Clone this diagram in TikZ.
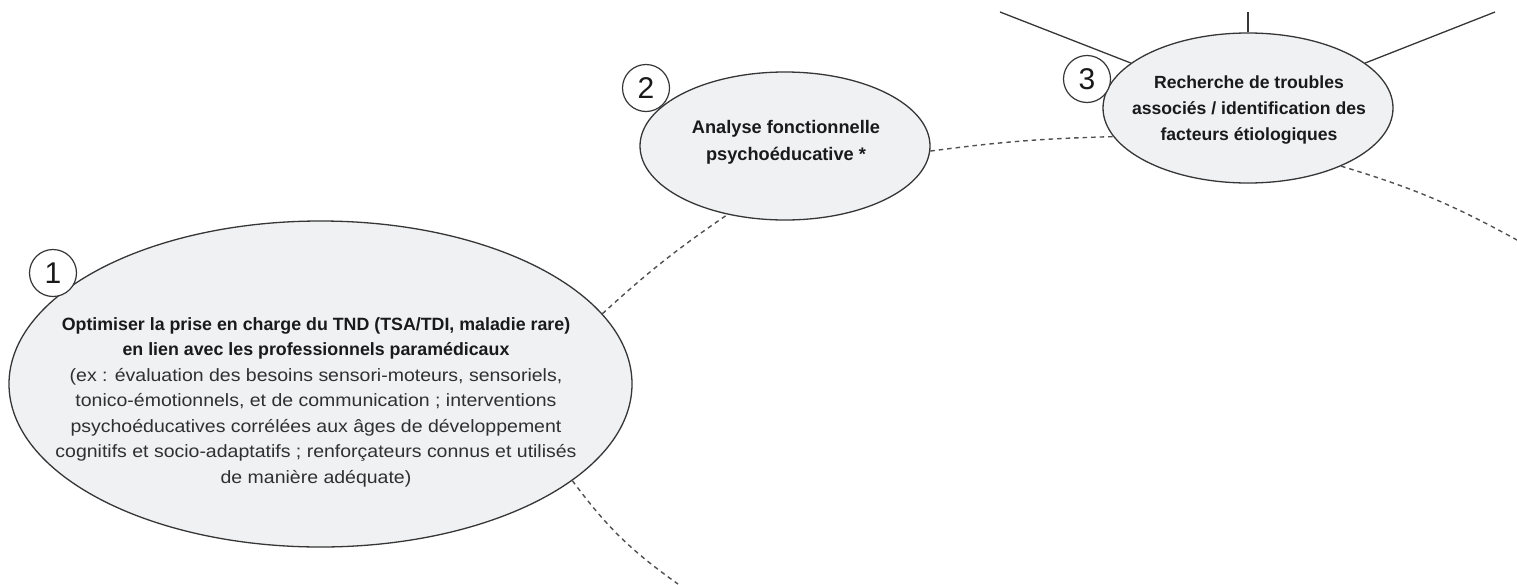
\documentclass[tikz,border=0pt]{standalone}
\usepackage{fontspec}
\setmainfont{Liberation Sans}
\newfontfamily\widereg[FakeStretch=1.095]{Liberation Sans}
\usetikzlibrary{shapes.geometric}
\definecolor{efill}{HTML}{EFF1F3}
\definecolor{edraw}{HTML}{363636}
\definecolor{dashc}{HTML}{505050}
\definecolor{tbold}{HTML}{1A1A1A}
\definecolor{tnorm}{HTML}{303030}
\newcommand\lightline[1]{{\widereg\mdseries\color{tnorm}#1}}
\begin{document}
\begin{tikzpicture}[x=1pt,y=-1pt,
  bubble/.style={ellipse, draw=edraw, fill=efill, line width=1.3pt, inner sep=0pt},
  num/.style={circle, draw=edraw, fill=white, line width=1.2pt, minimum size=47pt, inner sep=0pt, font=\fontsize{30}{30}\selectfont, text=tbold},
  btxt/.style={align=center, text=tbold, font=\bfseries\fontsize{17.8}{25.5}\selectfont},
  dashline/.style={draw=dashc, line width=1.4pt, dash pattern=on 4.5pt off 4pt},
  spoke/.style={draw=edraw, line width=1.3pt}]
\useasboundingbox (0,0) rectangle (1517,584);
\fill[white] (0,0) rectangle (1517,584);

\node[bubble, minimum width=623pt, minimum height=326pt] (e1) at (320.5,384) {};
\node[bubble, minimum width=290pt, minimum height=148pt] (e2) at (785,146) {};
\node[bubble, minimum width=290pt, minimum height=150pt] (e3) at (1248,108) {};

\node[btxt] (t1) at (316,402) {Optimiser la prise en charge du TND (TSA/TDI, maladie rare)\\
en lien avec les professionnels paramédicaux\\
\lightline{(ex : évaluation des besoins sensori-moteurs, sensoriels,}\\
\lightline{tonico-émotionnels, et de communication ; interventions}\\
\lightline{psychoéducatives corrélées aux âges de développement}\\
\lightline{cognitifs et socio-adaptatifs ; renforçateurs connus et utilisés}\\
\lightline{de manière adéquate)}};
\node[btxt, font=\bfseries\fontsize{18.2}{27}\selectfont] (t2) at (786,142) {Analyse fonctionnelle\\ psychoéducative *};
\node[btxt, font=\bfseries\fontsize{17.6}{26}\selectfont] (t3) at (1249,110) {Recherche de troubles\\ associés / identification des\\ facteurs étiologiques};

\node[num] (n1) at (53,273) {1};
\node[num] (n2) at (646,88) {2};
\node[num] (n3) at (1087,79) {3};

\coordinate (dR) at (1517,240);
\coordinate (dB) at (678,584);
\coordinate (sL) at (1000,12);
\coordinate (sT) at (1248,12);
\coordinate (sR) at (1495,12);

\draw[dashline] (e1.14) to[bend left=4] (e2.-130);
\draw[dashline] (e2.-2) to[bend left=3] (e3.-168);
\draw[dashline] (e3.-32) to[bend left=6] (dR);
\draw[dashline] (e1.-21) to[bend right=9] (dB);

\draw[spoke] (e3.159) -- (sL);
\draw[spoke] (e3.90) -- (sT);
\draw[spoke] (e3.21.5) -- (sR);
\end{tikzpicture}
\end{document}
